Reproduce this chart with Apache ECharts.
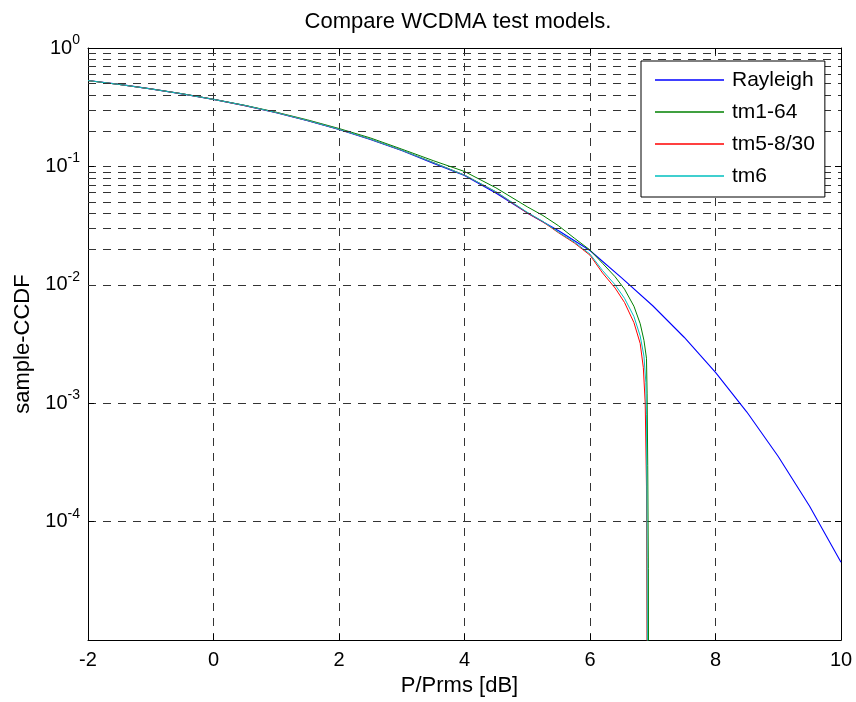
<!DOCTYPE html>
<html>
<head>
<meta charset="utf-8">
<script src="https://cdn.jsdelivr.net/npm/echarts@6/dist/echarts.min.js"></script>
<style>
html,body{margin:0;padding:0;background:#fff;}
#chart{width:856px;height:702px;}
</style>
</head>
<body>
<div id="chart"></div>
<script>
// ---- data ----
var titleText = 'Compare WCDMA test models.';
var xAxisName = 'P/Prms [dB]';
var yAxisName = 'sample-CCDF';
var seriesNames = ['Rayleigh', 'tm1-64', 'tm5-8/30', 'tm6'];
var yLabelExponents = [0, -1, -2, -3, -4];
var minorGridValues = [
  0.9,0.8,0.7,0.6,0.5,0.4,0.3,0.2,
  0.09,0.08,0.07,0.06,0.05,0.04,0.03,0.02,
  0.009,0.008,0.007,0.006,0.005,0.004,0.003,0.002,
  0.0009,0.0008,0.0007,0.0006,0.0005,0.0004,0.0003,0.0002,
  0.00009,0.00008,0.00007,0.00006,0.00005,0.00004,0.00003,0.00002
];

var rayleighX = [-2,-1.5,-1,-0.5,0,0.5,1,1.5,2,2.5,3,3.5,4,4.5,5,5.5,6,6.5,7,7.5,8,8.5,9,9.5,10];
var rayleighY = [0.532,0.493,0.452,0.410,0.368,0.326,0.284,0.243,0.205,0.169,0.136,0.1066,0.0837,0.0597,0.0405,0.0286,0.0195,0.0115,0.00666,0.00361,0.00182,0.000843,0.000355,0.000135,0.0000454];

var tm164X = [-2,-1.5,-1,-0.5,0,0.5,1,1.5,2,2.5,3,3.5,4,4.5,5,5.25,5.5,5.75,6,6.2,6.4,6.55,6.7,6.8,6.86,6.9,6.91,6.92,6.93,6.935];
var tm164Y = [0.530,0.492,0.452,0.411,0.369,0.328,0.287,0.247,0.209,0.174,0.140,0.112,0.0906,0.0660,0.0456,0.0385,0.0315,0.0248,0.0197,0.0152,0.0117,0.0092,0.0066,0.0047,0.0034,0.0024,0.0012,0.0003,0.00004,0.000001];

var tm5X = [-2,-1.5,-1,-0.5,0,0.5,1,1.5,2,2.5,3,3.5,4,4.5,5,5.25,5.5,5.75,6,6.2,6.4,6.55,6.7,6.8,6.85,6.88,6.9,6.915];
var tm5Y = [0.531,0.492,0.451,0.410,0.368,0.326,0.285,0.244,0.206,0.170,0.137,0.108,0.0845,0.0610,0.0405,0.0340,0.0275,0.0226,0.0178,0.0126,0.0094,0.0071,0.0048,0.0032,0.0020,0.0010,0.0002,0.000001];

var tm6X = [-2,-1.5,-1,-0.5,0,0.5,1,1.5,2,2.5,3,3.5,4,4.5,5,5.25,5.5,5.75,6,6.2,6.4,6.55,6.7,6.8,6.86,6.89,6.9,6.91,6.92];
var tm6Y = [0.531,0.492,0.451,0.410,0.368,0.327,0.285,0.244,0.206,0.170,0.137,0.108,0.0845,0.0612,0.0410,0.0343,0.0278,0.0230,0.0182,0.0132,0.0100,0.0077,0.0054,0.0037,0.0025,0.0015,0.0008,0.00005,0.000001];

// ---- chart ----
function pairs(xs, ys){ return xs.map(function(x,i){ return [x, ys[i]]; }); }
var FONT = '"Liberation Sans", Arial, Helvetica, sans-serif';
var gridDash = {type:[8,7], color:'#333', width:1};

var chart = echarts.init(document.getElementById('chart'), null, {renderer:'canvas'});
var option = {
  animation: false,
  backgroundColor: '#fff',
  title: {
    text: titleText, left: 458, top: 11, textAlign: 'center', padding: 0,
    textStyle: {fontFamily: FONT, fontSize: 22, fontWeight: 'normal', color: '#000'}
  },
  grid: {left: 88, right: 15, top: 48, bottom: 60, containLabel: false},
  legend: {
    data: seriesNames, orient: 'vertical', left: 641, top: 61, z: 20,
    icon: 'rect', itemHeight: 1.5,
    padding: [3, 10, 5, 14], itemGap: 0, itemWidth: 69,
    backgroundColor: '#fff', borderColor: '#000', borderWidth: 1, borderRadius: 0,
    textStyle: {fontFamily: FONT, fontSize: 21, color: '#000', lineHeight: 32, padding: [0,0,0,3]}
  },
  xAxis: [{
    type: 'value', min: -2, max: 10, interval: 2,
    name: xAxisName, nameLocation: 'middle', nameGap: 35,
    nameTextStyle: {fontFamily: FONT, fontSize: 22, color: '#000', verticalAlign: 'middle', padding: [0, 10, 0, 0]},
    axisLine: {show: true, onZero: false, lineStyle: {color: '#000', width: 1}},
    axisTick: {show: true, inside: true, length: 6, lineStyle: {color: '#000'}},
    axisLabel: {fontFamily: FONT, fontSize: 20, color: '#000', margin: 10},
    splitLine: {show: true, lineStyle: gridDash}
  }, {
    type: 'value', min: -2, max: 10, interval: 2, position: 'top',
    axisLine: {show: true, onZero: false, lineStyle: {color: '#000', width: 1}},
    axisTick: {show: true, inside: true, length: 6, lineStyle: {color: '#000'}},
    axisLabel: {show: false}, splitLine: {show: false}
  }],
  yAxis: [{
    type: 'log', logBase: 10, min: 0.00001, max: 1,
    name: yAxisName, nameLocation: 'middle', nameGap: 56, nameRotate: 90,
    nameTextStyle: {fontFamily: FONT, fontSize: 22, color: '#000', verticalAlign: 'middle'},
    axisLine: {show: true, onZero: false, lineStyle: {color: '#000', width: 1}},
    axisTick: {show: true, inside: true, length: 6, lineStyle: {color: '#000'}},
    axisLabel: {
      margin: 8, fontFamily: FONT, fontSize: 20, color: '#000',
      formatter: function(v){
        var e = Math.round(Math.log10(v));
        if (yLabelExponents.indexOf(e) < 0) return '';
        return '{b|10}{s|' + e + '}';
      },
      rich: {
        b: {fontFamily: FONT, fontSize: 20, color: '#000', lineHeight: 30, verticalAlign: 'middle'},
        s: {fontFamily: FONT, fontSize: 14, color: '#000', lineHeight: 15, verticalAlign: 'top'}
      }
    },
    splitLine: {show: true, lineStyle: gridDash}
  }, {
    type: 'log', logBase: 10, min: 0.00001, max: 1, position: 'right',
    axisLine: {show: true, onZero: false, lineStyle: {color: '#000', width: 1}},
    axisTick: {show: true, inside: true, length: 6, lineStyle: {color: '#000'}},
    axisLabel: {show: false}, splitLine: {show: false}
  }],
  series: [
    {
      name: 'minor-grid', type: 'line', data: [], z: 1, silent: true,
      xAxisIndex: 0, yAxisIndex: 0,
      markLine: {
        silent: true, symbol: ['none','none'], label: {show: false}, animation: false,
        lineStyle: gridDash, emphasis: {disabled: true},
        data: minorGridValues.map(function(v){ return {yAxis: v}; })
      }
    },
    {name: seriesNames[0], type: 'line', data: pairs(rayleighX, rayleighY), symbol: 'none', clip: true,
     lineStyle: {color: '#0000ff', width: 1.1}, itemStyle: {color: '#0000ff'}, z: 3},
    {name: seriesNames[1], type: 'line', data: pairs(tm164X, tm164Y), symbol: 'none', clip: true,
     lineStyle: {color: '#008000', width: 1}, itemStyle: {color: '#008000'}, z: 3},
    {name: seriesNames[2], type: 'line', data: pairs(tm5X, tm5Y), symbol: 'none', clip: true,
     lineStyle: {color: '#ff0000', width: 1}, itemStyle: {color: '#ff0000'}, z: 3},
    {name: seriesNames[3], type: 'line', data: pairs(tm6X, tm6Y), symbol: 'none', clip: true,
     lineStyle: {color: '#00bfbf', width: 1}, itemStyle: {color: '#00bfbf'}, z: 3}
  ]
};
chart.setOption(option);
</script>
</body>
</html>
